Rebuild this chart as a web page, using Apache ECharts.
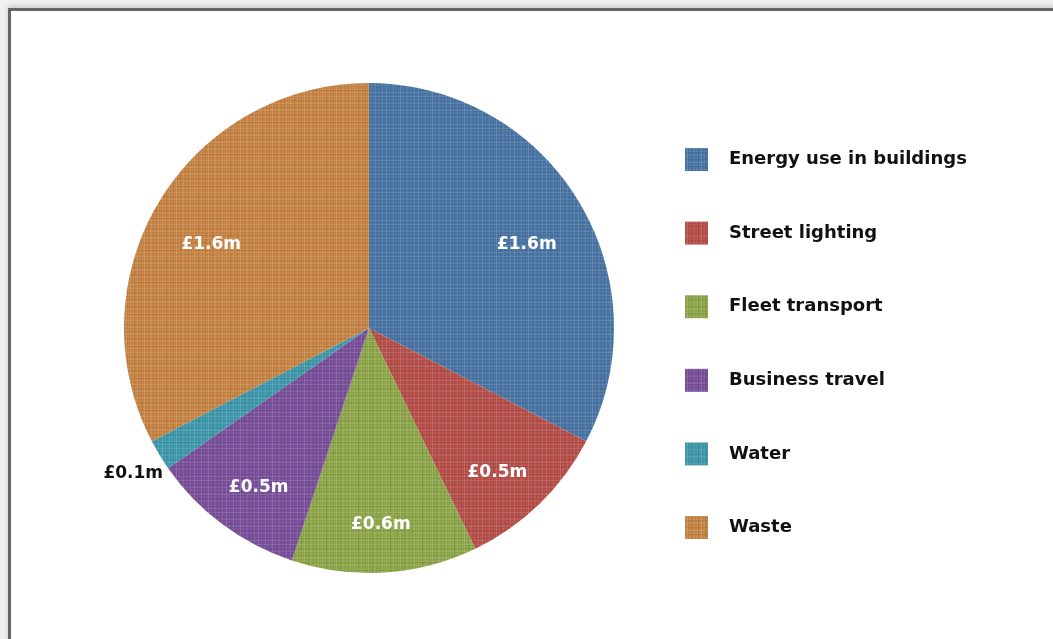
<!DOCTYPE html>
<html>
<head>
<meta charset="utf-8">
<title>Carbon costs by source</title>
<script src="https://cdn.jsdelivr.net/npm/echarts@6/dist/echarts.min.js"></script>
<style>
  html, body { margin: 0; padding: 0; width: 1053px; height: 639px; overflow: hidden; background: #efefef; }
  #frame { position: absolute; left: 8px; top: 8px; width: 1200px; height: 800px; border: 3px solid #656565; background: #fff; box-shadow: 0 -2px 4px rgba(0,0,0,0.15); }
  #chart { position: absolute; left: 0; top: 0; width: 1053px; height: 639px; }
</style>
</head>
<body>
<div id="frame"></div>
<div id="chart"></div>
<script>
// Annual cost by emission source, £ millions
const categories = ['Energy use in buildings', 'Street lighting', 'Fleet transport', 'Business travel', 'Water', 'Waste'];
const values = [1.6, 0.5, 0.6, 0.5, 0.1, 1.6];
const colors = ['#4a76a6', '#b8504b', '#8fa84a', '#7a509b', '#3f9aad', '#c98545'];

// Linen-like woven texture over a base colour
function linen(base) {
  const c = document.createElement('canvas');
  c.width = 32; c.height = 32;
  const g = c.getContext('2d');
  g.fillStyle = base;
  g.fillRect(0, 0, 32, 32);
  const steps = [0, 3, 7, 10, 14, 17, 21, 25, 28];
  const light = [0.12, 0.05, 0.09, 0.04, 0.14, 0.06, 0.08, 0.03, 0.10];
  const dark = [0.04, 0.08, 0.03, 0.07, 0.05, 0.09, 0.03, 0.06, 0.04];
  steps.forEach((p, i) => {
    g.fillStyle = 'rgba(255,255,255,' + light[i] + ')';
    g.fillRect(0, p, 32, 1);
    g.fillRect((p + 2) % 32, 0, 1, 32);
    g.fillStyle = 'rgba(0,0,0,' + dark[i] + ')';
    g.fillRect(0, p + 1, 32, 1);
    g.fillRect((p + 3) % 32, 0, 1, 32);
  });
  return { image: c, repeat: 'repeat' };
}

const cx = 369, cy = 328, radius = 245;
const labelScale = 1.47;
const fontFamily = 'DejaVu Sans';

const chart = echarts.init(document.getElementById('chart'), null, { renderer: 'canvas' });

const seriesData = categories.map((name, i) => {
  const item = {
    name: name,
    value: values[i],
    itemStyle: { color: linen(colors[i]) }
  };
  if (name === 'Water') {
    item.label = { position: 'outside', color: '#111' };
    item.labelLine = { show: false, length: 4, length2: 0 };
  }
  return item;
});

chart.setOption({
  backgroundColor: 'transparent',
  animation: false,
  legend: {
    orient: 'vertical',
    left: 680,
    top: 143,
    itemWidth: 23,
    itemHeight: 23,
    itemGap: 50.6,
    icon: 'rect',
    data: categories,
    textStyle: { fontFamily: fontFamily, fontWeight: 'bold', fontSize: 18, color: '#111', padding: [0, 0, 0, 16] }
  },
  series: [{
    type: 'pie',
    center: [cx, cy],
    radius: [0, radius],
    startAngle: 90,
    clockwise: true,
    avoidLabelOverlap: false,
    data: seriesData,
    label: {
      show: true,
      position: 'inside',
      formatter: p => '£' + p.value.toFixed(1) + 'm',
      color: '#fff',
      fontFamily: fontFamily,
      fontWeight: 'bold',
      fontSize: 17
    },
    labelLine: { show: false },
    labelLayout: function (p) {
      if (categories[p.dataIndex] === 'Water') {
        return { dx: 12, dy: 16 };
      }
      const lx = p.labelRect.x + p.labelRect.width / 2;
      const ly = p.labelRect.y + p.labelRect.height / 2;
      return {
        x: cx + (lx - cx) * labelScale,
        y: cy + (ly - cy) * labelScale + 12,
        align: 'center',
        verticalAlign: 'middle'
      };
    },
    emphasis: { disabled: true }
  }]
});
</script>
</body>
</html>
